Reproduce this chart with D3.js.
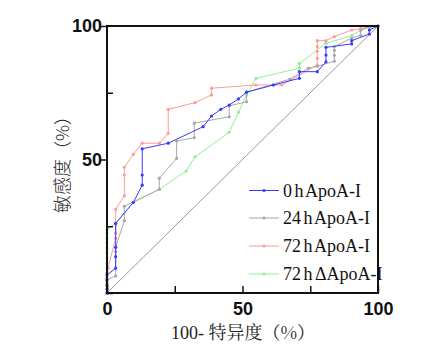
<!DOCTYPE html>
<html>
<head>
<meta charset="utf-8">
<script src="https://cdn.jsdelivr.net/npm/d3@7"></script>
<style>
  body { margin: 0; background: #fff; }
</style>
</head>
<body>
<svg id="roc" width="440" height="347"></svg>
<script>
// Series data: 100 - specificity (x) and sensitivity (y), in percent
const seriesNames = ["0 h ApoA-I", "24 h ApoA-I", "72 h ApoA-I", "72 h \u0394ApoA-I"];

const fpr0h = [0, 0, 0, 0, 0, 3.2, 3.2, 3.2, 3.2, 9.7, 13, 13, 13, 22.6, 35.5, 38.6, 42, 45.1, 48.5, 51.5, 61.4, 71, 71, 77.6, 80.8, 80.8, 80.8, 90.3, 90.3, 96.8, 96.8, 100];
const tpr0h = [0, 1.5, 3, 4.9, 6.7, 9.3, 13.6, 17.1, 26.1, 33.9, 40.4, 44.2, 54, 56.1, 62.3, 66.3, 68.8, 70.4, 72.7, 75.2, 77.9, 80.4, 82.9, 82.9, 86.6, 89.1, 92, 93.3, 94.5, 97, 98.5, 100];

const fpr24h = [0, 0, 0, 3.2, 3.2, 3.2, 6.4, 6.4, 19.3, 19.3, 25.7, 25.7, 32.2, 32.2, 45.1, 45.1, 51.5, 51.5, 67.5, 74.3, 77.6, 83.9, 83.9, 83.9, 83.9, 90.3, 93.6, 93.6, 96.8, 100];
const tpr24h = [0, 2.5, 4.9, 6.4, 15.5, 17.2, 27.1, 32.5, 38.8, 43, 50.4, 56.9, 58.2, 63.6, 66, 70.1, 71.6, 75.2, 80.1, 84.2, 84.9, 86.8, 89, 90.9, 92.2, 95.5, 96.5, 98.4, 99.7, 100];

const fpr72h = [0, 0, 0, 0.4, 3.2, 3.2, 3.2, 3.2, 6.4, 6.4, 6.4, 9.7, 13, 19.3, 22.6, 22.6, 32.5, 38.6, 38.6, 54.9, 64.5, 77.6, 77.6, 77.6, 77.6, 77.6, 80.8, 83.9, 90.3, 93.6, 96.8, 100];
const tpr72h = [0, 3.7, 7.5, 9.4, 20.5, 22.4, 25.5, 31.3, 36.4, 44.2, 47.1, 51.9, 56.1, 56.1, 59.8, 68.8, 71.3, 74.2, 76.7, 77.9, 77.9, 85.4, 87.9, 90.5, 92.3, 94.5, 94.5, 96, 98.5, 99, 99.7, 100];

const fpr72hDelta = [0, 0, 0, 0, 0, 0, 0, 0, 0, 0, 0, 0, 0, 3.2, 9.7, 19.3, 29.2, 32.5, 45.1, 48.5, 51.5, 55, 71, 71, 80.8, 90.3, 93.6, 96.8, 100];
const tpr72hDelta = [0, 3.7, 5.6, 7.5, 9.4, 11.2, 13.1, 15, 16.9, 18.7, 20.6, 22.5, 23.6, 26.1, 33.9, 38.8, 45.7, 51, 60.2, 67.7, 74.2, 80.4, 84.2, 86, 93.5, 96.4, 98.5, 99.5, 100];

const xTicks = [0, 25, 50, 75, 100];
const xTickLabels = ["0", "", "50", "", "100"];
const yTicks = [0, 25, 50, 75, 100];
const yTickLabels = ["", "", "50", "", "100"];

const colors = ["#3a3aff", "#a8a8a8", "#ff9a9a", "#90f090"];

const series = [
  { name: seriesNames[0], x: fpr0h, y: tpr0h, color: colors[0] },
  { name: seriesNames[1], x: fpr24h, y: tpr24h, color: colors[1] },
  { name: seriesNames[2], x: fpr72h, y: tpr72h, color: colors[2] },
  { name: seriesNames[3], x: fpr72hDelta, y: tpr72hDelta, color: colors[3] }
];

const serifFont = "'Liberation Serif', 'Times New Roman', serif";
const boldFont = "'Liberation Sans', Arial, sans-serif";

// Plot box
const plot = { left: 107, right: 378, top: 26, bottom: 293 };

const svg = d3.select("#roc");

const xScale = d3.scaleLinear().domain([0, 100]).range([plot.left, plot.right]);
const yScale = d3.scaleLinear().domain([0, 100]).range([plot.bottom, plot.top]);

// Diagonal reference line
svg.append("line")
   .attr("x1", xScale(0)).attr("y1", yScale(0))
   .attr("x2", xScale(100)).attr("y2", yScale(100))
   .attr("stroke", "#9a9a9a")
   .attr("stroke-width", 1);

// Curves (draw order: green, red, gray, blue on top)
const line = d3.line()
               .x(function(d) { return xScale(d[0]); })
               .y(function(d) { return yScale(d[1]); });

[3, 2, 1, 0].forEach(function(i) {
  const s = series[i];
  const pts = d3.zip(s.x, s.y);
  svg.append("path")
     .datum(pts)
     .attr("fill", "none")
     .attr("stroke", s.color)
     .attr("stroke-width", 1)
     .attr("d", line);
  svg.append("g")
     .selectAll("circle")
     .data(pts)
     .join("circle")
       .attr("cx", function(d) { return xScale(d[0]); })
       .attr("cy", function(d) { return yScale(d[1]); })
       .attr("r", 1.6)
       .attr("fill", s.color);
});

// Frame
svg.append("rect")
   .attr("x", plot.left).attr("y", plot.top)
   .attr("width", plot.right - plot.left)
   .attr("height", plot.bottom - plot.top)
   .attr("fill", "none")
   .attr("stroke", "#111")
   .attr("stroke-width", 2);

// X axis ticks (inward) and labels
const xAxis = d3.axisBottom(xScale)
                .tickValues(xTicks)
                .tickSize(-7)
                .tickFormat(function(d, i) { return xTickLabels[i]; });
const gx = svg.append("g")
              .attr("transform", `translate(0,${plot.bottom})`)
              .call(xAxis);
gx.select(".domain").remove();
gx.selectAll(".tick line").attr("stroke", "#111").attr("stroke-width", 1.5);
gx.selectAll(".tick text")
  .attr("y", 9)
  .attr("dy", "0.71em")
  .style("font-family", boldFont)
  .style("font-weight", "bold")
  .style("font-size", "18px")
  .attr("fill", "#111");

// Y axis ticks and labels
const yAxis = d3.axisLeft(yScale)
                .tickValues(yTicks)
                .tickSize(6)
                .tickFormat(function(d, i) { return yTickLabels[i]; });
const gy = svg.append("g")
              .attr("transform", `translate(${plot.left},0)`)
              .call(yAxis);
gy.select(".domain").remove();
gy.selectAll(".tick line")
  .attr("stroke", "#111")
  .attr("stroke-width", 1.5)
  .attr("x1", function(d) { return (d === 50 || d === 100) ? -6 : 0; })
  .attr("x2", function(d) { return (d === 50 || d === 100) ? 0 : 6; });
gy.selectAll(".tick text")
  .attr("x", -5)
  .style("font-family", boldFont)
  .style("font-weight", "bold")
  .style("font-size", "18px")
  .attr("fill", "#111");

// Axis titles
const xTitle = svg.append("text")
   .attr("x", 243)
   .attr("y", 339)
   .attr("text-anchor", "middle")
   .style("font-family", serifFont)
   .style("font-size", "18px")
   .attr("fill", "#222");
xTitle.append("tspan").text("100- ");
xTitle.append("tspan")
      .style("font-family", "'Noto Serif CJK SC', 'Noto Sans CJK SC', serif")
      .text("特异度（%）");

svg.append("text")
   .attr("transform", "rotate(-90)")
   .attr("x", -160)
   .attr("y", 69)
   .attr("text-anchor", "middle")
   .style("font-family", "'Noto Sans CJK SC', sans-serif")
   .style("font-weight", "300")
   .style("font-size", "18px")
   .attr("fill", "#222")
   .text("敏感度（%）");

// Legend
const legendY = [190.5, 218, 246, 274];
const legend = svg.append("g")
                  .selectAll("g")
                  .data(series)
                  .join("g")
                    .attr("transform", function(d, i) { return `translate(249,${legendY[i]})`; });
legend.append("line")
      .attr("x1", 0).attr("x2", 30)
      .attr("stroke", function(d) { return d.color; })
      .attr("stroke-width", 1);
legend.append("circle")
      .attr("cx", 15).attr("r", 1.6)
      .attr("fill", function(d) { return d.color; });
legend.append("text")
      .attr("x", 34)
      .attr("y", 6)
      .style("font-family", serifFont)
      .style("font-size", "18px")
      .style("word-spacing", "-2px")
      .attr("fill", "#111")
      .text(function(d) { return d.name; });
</script>
</body>
</html>
